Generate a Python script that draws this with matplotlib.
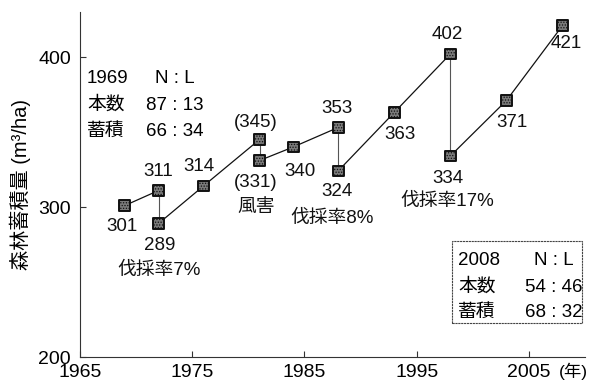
import matplotlib
matplotlib.use("Agg")
import matplotlib.pyplot as plt
from matplotlib.patches import Rectangle

plt.rcParams['font.family'] = ['Liberation Sans', 'Noto Sans CJK JP', 'DejaVu Sans']

# survey path: years and stock volumes (m3/ha), including the drops after cutting / wind damage
years = [1969, 1972, 1972, 1976, 1981, 1981, 1984, 1988, 1988, 1993, 1998, 1998, 2003, 2008]
volume = [301, 311, 289, 314, 345, 331, 340, 353, 324, 363, 402, 334, 371, 421]
value_labels = ['301', '311', '289', '314', '(345)', '(331)', '340', '353', '324', '363',
                '402', '334', '371', '421']
# label offsets in points from each point
label_offsets = [(-2, -15), (0, 14), (1, -16), (-3, 14), (-2.5, 12.5), (-2.5, -16), (5, -18),
                 (-1, 14), (-1, -15), (4, -16), (-2, 14), (-2, -16.5), (4, -15.5), (3, -13)]

# notes under some points: (index, text, offset)
notes = [(2, '伐採率7%', (0, -33.5)),
         (5, '風害', (-2.5, -34)),
         (8, '伐採率8%', (-4.5, -34)),
         (11, '伐採率17%', (-2.6, -33))]

box_1969 = [('1969', 'N : L'), ('本数', '87 : 13'), ('蓄積', '66 : 34')]
box_2008 = [('2008', 'N : L'), ('本数', '54 : 46'), ('蓄積', '68 : 32')]

fig = plt.figure(figsize=(5.90, 3.81), dpi=100)
ax = fig.add_axes([80 / 590, 24 / 381, 505 / 590, 345 / 381])

# connecting lines; vertical drops drawn lighter
for i in range(len(years) - 1):
    xs = years[i:i + 2]
    ys = volume[i:i + 2]
    if xs[0] == xs[1]:
        ax.plot(xs, ys, color='#555555', lw=0.8, zorder=2)
    else:
        ax.plot(xs, ys, color='#111111', lw=0.9, zorder=2)

plt.rcParams['hatch.linewidth'] = 0.6
ax.scatter(years, volume, marker='s', s=62, facecolor='#7a7a7a', edgecolor='#111111',
           linewidths=1.4, hatch='......', zorder=3)

for x, y, t, off in zip(years, volume, value_labels, label_offsets):
    ax.annotate(t, (x, y), xytext=off, textcoords='offset points',
                ha='center', va='center', fontsize=13.5, color='#111111')

for i, t, off in notes:
    ax.annotate(t, (years[i], volume[i]), xytext=off, textcoords='offset points',
                ha='center', va='center', fontsize=13.5, color='#111111')

# composition tables
for (left, right), yb in zip(box_1969, [0.7942, 0.7159, 0.6406]):
    ax.text(0.014, yb, left, transform=ax.transAxes, ha='left', va='baseline', fontsize=13.5)
    ax.text(0.188, yb, right, transform=ax.transAxes, ha='center', va='baseline', fontsize=13.5)

for (left, right), yb in zip(box_2008, [0.2667, 0.1884, 0.1159]):
    ax.text(0.7485, yb, left, transform=ax.transAxes, ha='left', va='baseline', fontsize=13.5)
    ax.text(0.9386, yb, right, transform=ax.transAxes, ha='center', va='baseline', fontsize=13.5)

ax.add_patch(Rectangle((0.736, 0.0994), 0.2575, 0.2376, transform=ax.transAxes,
                       fill=False, edgecolor='#444444', lw=0.8, ls=(0, (2, 0.6))))

ax.set_xlim(1965, 2010)
ax.set_ylim(200, 430)
ax.set_xticks([1965, 1975, 1985, 1995, 2005])
ax.set_yticks([200, 300, 400])
ax.tick_params(direction='in', length=4, width=0.8, labelsize=14, color='#333333')
ax.tick_params(axis='y', pad=6.5)
ax.tick_params(axis='x', pad=5)
ax.annotate('(年)', (2005, 0), xycoords=('data', 'axes fraction'), xytext=(21.5, -10),
            textcoords='offset points', ha='left', va='center', fontsize=12.5)

for s in ['top', 'right']:
    ax.spines[s].set_visible(False)
for s in ['left', 'bottom']:
    ax.spines[s].set_color('#333333')
    ax.spines[s].set_linewidth(0.8)

ax.set_ylabel('森林蓄積量 (m³/ha)', fontsize=14.5, va='center')
ax.yaxis.set_label_coords(-0.119, 0.5)

fig.savefig('out.png', dpi=100)
